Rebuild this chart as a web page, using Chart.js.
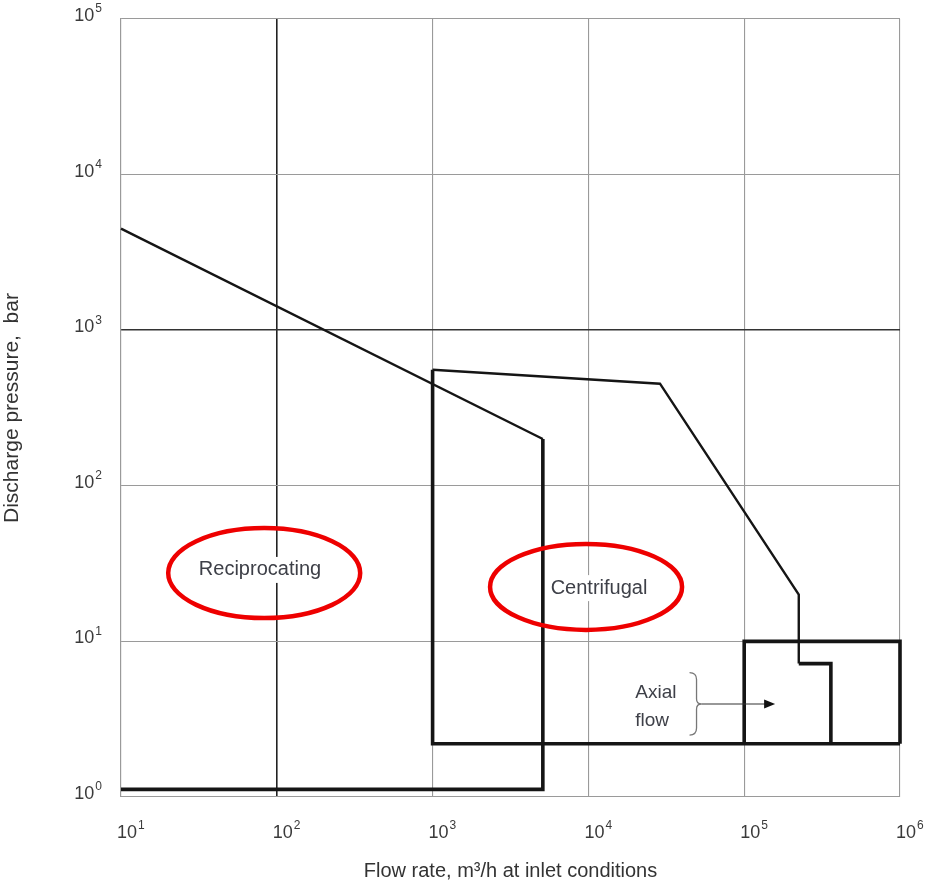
<!DOCTYPE html>
<html>
<head>
<meta charset="utf-8">
<script src="https://cdn.jsdelivr.net/npm/chart.js@4/dist/chart.umd.min.js"></script>
<style>
  body { margin: 0; background: #fff; }
  #wrap { width: 931px; height: 883px; }
</style>
</head>
<body>
<div id="wrap"><canvas id="chart" width="931" height="883"></canvas></div>
<script>
// Axis ticks (powers of ten)
const xTicks = [1e1, 1e2, 1e3, 1e4, 1e5, 1e6];
const yTicks = [1e0, 1e1, 1e2, 1e3, 1e4, 1e5];

// Reciprocating envelope
const recipTopX = [10, 5100];
const recipTopY = [4500, 200];
const recipEdgeX = [5100, 5100, 10];
const recipEdgeY = [200, 1.12, 1.12];

// Centrifugal envelope
const centTopX = [1000, 28800, 224000, 224000];
const centTopY = [557, 453, 20, 7.2];
const centStepX = [224000, 360000, 360000];
const centStepY = [7.2, 7.2, 2.2];
const centEdgeX = [1000, 1000, 1e6];
const centEdgeY = [557, 2.2, 2.2];

// Axial flow box
const axialX = [1e5, 1e5, 1e6, 1e6];
const axialY = [2.2, 10, 10, 2.2];

// Region labels and ellipse markers (data coordinates)
const regionNames = ['Reciprocating', 'Centrifugal'];
const regionTextX = [78, 11700];
const regionTextY = [28.8, 22];
const ellipseX = [83, 9660];
const ellipseY = [27.5, 22.4];

// Axial flow note
const axialNote = ['Axial', 'flow'];
const axialNoteX = 2e4;
const axialNoteY = [4.7, 3.1];
const braceX = 4.8e4;
const braceY = [6.3, 3.96, 2.5];
const arrowEndX = 1.58e5;

const FONT = '"Liberation Sans", Arial, sans-serif';

function pts(xs, ys) {
  return xs.map((x, i) => ({ x: x, y: ys[i] }));
}

function line(xs, ys, w) {
  return {
    data: pts(xs, ys),
    showLine: true,
    borderColor: '#151515',
    borderWidth: w,
    pointRadius: 0,
    fill: false,
    tension: 0,
    clip: false
  };
}

// power-of-ten label: "10" with a raised exponent
function powLabel(ctx, exp, x, y, alignRight) {
  ctx.font = '18px ' + FONT;
  const wb = ctx.measureText('10').width;
  ctx.font = '12px ' + FONT;
  const we = ctx.measureText(String(exp)).width;
  const x0 = alignRight ? x - wb - we - 1 : x;
  ctx.font = '18px ' + FONT;
  ctx.fillText('10', x0, y);
  ctx.font = '12px ' + FONT;
  ctx.fillText(String(exp), x0 + wb + 1, y - 7);
}

const tickLabels = {
  id: 'tickLabels',
  afterDraw(chart) {
    const ctx = chart.ctx;
    const xs = chart.scales.x, ys = chart.scales.y;
    ctx.save();
    ctx.fillStyle = '#3a3a3a';
    ctx.textAlign = 'left';
    ctx.textBaseline = 'middle';
    yTicks.forEach(v => {
      powLabel(ctx, Math.round(Math.log10(v)), 102, ys.getPixelForValue(v) - 3, true);
    });
    xTicks.forEach(v => {
      powLabel(ctx, Math.round(Math.log10(v)), xs.getPixelForValue(v) - 4, 833, false);
    });
    ctx.restore();
  }
};

const annotations = {
  id: 'annotations',
  afterDatasetsDraw(chart) {
    const ctx = chart.ctx;
    const xs = chart.scales.x, ys = chart.scales.y;
    ctx.save();

    // region labels with white background
    ctx.font = '20px ' + FONT;
    ctx.textAlign = 'center';
    ctx.textBaseline = 'middle';
    regionNames.forEach((name, i) => {
      const px = xs.getPixelForValue(regionTextX[i]);
      const py = ys.getPixelForValue(regionTextY[i]);
      const w = ctx.measureText(name).width;
      ctx.fillStyle = '#fff';
      ctx.fillRect(px - w / 2 - 4, py - 13, w + 8, 26);
      ctx.fillStyle = '#3e4048';
      ctx.fillText(name, px, py);
    });

    // red ellipses
    ctx.strokeStyle = '#ee0000';
    ctx.lineWidth = 4.5;
    const radii = [[96, 45], [96, 43]];
    ellipseX.forEach((ex, i) => {
      ctx.beginPath();
      ctx.ellipse(xs.getPixelForValue(ex), ys.getPixelForValue(ellipseY[i]),
        radii[i][0], radii[i][1], 0, 0, Math.PI * 2);
      ctx.stroke();
    });

    // axial flow note
    ctx.font = '19px ' + FONT;
    ctx.fillStyle = '#3e4048';
    ctx.textAlign = 'left';
    const nx = xs.getPixelForValue(axialNoteX);
    axialNote.forEach((t, i) => {
      ctx.fillText(t, nx, ys.getPixelForValue(axialNoteY[i]));
    });

    // brace
    const bx = xs.getPixelForValue(braceX);
    const bt = ys.getPixelForValue(braceY[0]);
    const bm = ys.getPixelForValue(braceY[1]);
    const bb = ys.getPixelForValue(braceY[2]);
    ctx.strokeStyle = '#777';
    ctx.lineWidth = 1.3;
    ctx.beginPath();
    ctx.moveTo(bx - 5, bt);
    ctx.quadraticCurveTo(bx + 2, bt, bx + 2, bt + 7);
    ctx.lineTo(bx + 2, bm - 5);
    ctx.quadraticCurveTo(bx + 2, bm, bx + 7, bm);
    ctx.quadraticCurveTo(bx + 2, bm, bx + 2, bm + 5);
    ctx.lineTo(bx + 2, bb - 7);
    ctx.quadraticCurveTo(bx + 2, bb, bx - 5, bb);
    ctx.stroke();

    // arrow
    const ax = xs.getPixelForValue(arrowEndX);
    ctx.strokeStyle = '#333';
    ctx.lineWidth = 1.2;
    ctx.beginPath();
    ctx.moveTo(bx + 7, bm);
    ctx.lineTo(ax - 8, bm);
    ctx.stroke();
    ctx.fillStyle = '#111';
    ctx.beginPath();
    ctx.moveTo(ax, bm);
    ctx.lineTo(ax - 11, bm - 4.5);
    ctx.lineTo(ax - 11, bm + 4.5);
    ctx.closePath();
    ctx.fill();

    ctx.restore();
  }
};

new Chart(document.getElementById('chart'), {
  type: 'scatter',
  data: {
    datasets: [
      line(recipTopX, recipTopY, 2.4),
      line(recipEdgeX, recipEdgeY, 3.6),
      line(centTopX, centTopY, 2.4),
      line(centStepX, centStepY, 3.6),
      line(centEdgeX, centEdgeY, 3.6),
      line(axialX, axialY, 3.6)
    ]
  },
  options: {
    responsive: false,
    animation: false,
    layout: { padding: { top: 19, right: 31, left: 0, bottom: 0 } },
    plugins: { legend: { display: false }, tooltip: { enabled: false } },
    scales: {
      x: {
        type: 'logarithmic',
        min: 10,
        max: 1e6,
        afterBuildTicks: s => { s.ticks = xTicks.map(v => ({ value: v })); },
        afterFit: s => { s.height = 86; },
        grid: {
          drawTicks: false,
          color: c => (c.tick && c.tick.value === 100 ? '#222' : '#9a9a9a'),
          lineWidth: c => (c.tick && c.tick.value === 100 ? 1.6 : 1.1)
        },
        border: { color: '#9a9a9a', width: 1.1 },
        ticks: { display: false },
        title: {
          display: true,
          text: 'Flow rate, m³/h at inlet conditions',
          color: '#333',
          font: { family: FONT, size: 20 },
          padding: { top: 1, bottom: 0 }
        }
      },
      y: {
        type: 'logarithmic',
        min: 1,
        max: 1e5,
        afterBuildTicks: s => { s.ticks = yTicks.map(v => ({ value: v })); },
        afterFit: s => { s.width = 121; },
        grid: {
          drawTicks: false,
          color: c => (c.tick && c.tick.value === 1000 ? '#333' : '#9a9a9a'),
          lineWidth: c => (c.tick && c.tick.value === 1000 ? 1.6 : 1.1)
        },
        border: { color: '#9a9a9a', width: 1.1 },
        ticks: { display: false },
        title: {
          display: true,
          text: 'Discharge pressure,  bar',
          color: '#333',
          font: { family: FONT, size: 21 },
          padding: { top: 0, bottom: 0 }
        }
      }
    }
  },
  plugins: [annotations, tickLabels]
});
</script>
</body>
</html>
